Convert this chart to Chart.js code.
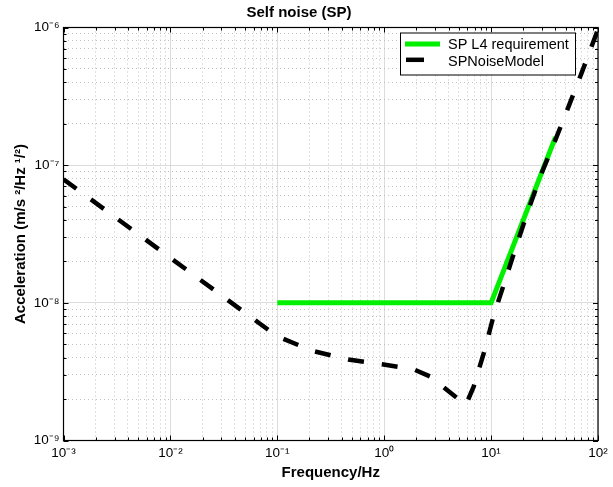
<!DOCTYPE html>
<html><head><meta charset="utf-8">
<script src="https://cdn.jsdelivr.net/npm/chart.js@4"></script>
<style>html,body{margin:0;padding:0;background:#fff;} #wrap{width:613px;height:487px;}</style>
</head><body><div id="wrap"><canvas id="c" width="613" height="487"></canvas></div>
<script>
// ---- data ----
const reqFreq = [0.1, 10, 40];
const reqValue = [1e-8, 1e-8, 1.6e-7];
const modelFreq = [0.001, 0.1, 0.217, 0.461, 1.02, 1.87, 2.68, 5.8, 6.87, 8.67, 10.6, 13.6, 17.3, 22.3, 29.2, 38.9, 52.8, 70.3, 93.8, 100];
const modelValue = [7.9e-8, 5.7e-9, 4.46e-9, 3.88e-9, 3.55e-9, 3.3e-9, 2.92e-9, 1.81e-9, 2.46e-9, 4.48e-9, 8.17e-9, 1.47e-8, 2.63e-8, 4.73e-8, 8.5e-8, 1.45e-7, 2.64e-7, 4.68e-7, 8.5e-7, 9.7e-7];
const seriesLabels = ['SP L4 requirement', 'SPNoiseModel'];
const xDecades = [-3, -2, -1, 0, 1, 2];
const yDecades = [-9, -8, -7, -6];
const chartTitle = 'Self noise (SP)';
const xTitle = 'Frequency/Hz';
const yTitle = 'Acceleration (m/s \u00b2/Hz \u00b9/\u00b2)';

// ---- helpers ----
const SUP = {'-':'\u207b','0':'\u2070','1':'\u00b9','2':'\u00b2','3':'\u00b3','4':'\u2074','5':'\u2075','6':'\u2076','7':'\u2077','8':'\u2078','9':'\u2079'};
const sup = s => String(s).split('').map(c => SUP[c] || c).join('');
const isPow10 = v => Math.abs(Math.log10(v) - Math.round(Math.log10(v))) < 1e-9;
function tickValues(decs) {
  const out = [];
  for (let i = 0; i < decs.length - 1; i++) {
    for (let m = 1; m <= 9; m++) out.push(Number((m * Math.pow(10, decs[i])).toPrecision(4)));
  }
  out.push(Math.pow(10, decs[decs.length - 1]));
  return out;
}
const xTicks = tickValues(xDecades);
const yTicks = tickValues(yDecades);
const powLabel = v => isPow10(v) ? '10' + sup(Math.round(Math.log10(v))) : '';

const FONT = '"Liberation Sans", Arial, Helvetica, sans-serif';
Chart.defaults.font.family = FONT;
Chart.defaults.color = '#000';

const gridColor = ctx => (ctx.tick && !isPow10(ctx.tick.value)) ? '#c2c2c2' : '#dcdcdc';
const gridDash = ctx => (ctx.tick && !isPow10(ctx.tick.value)) ? [1, 3] : [];

const frame = {
  id: 'frame',
  afterDraw(chart) {
    const {ctx, chartArea: a, scales: {x, y}} = chart;
    ctx.save();
    ctx.strokeStyle = '#000';
    ctx.lineWidth = 1;
    ctx.setLineDash([]);
    const seg = (x1, y1, x2, y2) => { ctx.beginPath(); ctx.moveTo(x1, y1); ctx.lineTo(x2, y2); ctx.stroke(); };
    x.ticks.forEach(t => {
      const px = Math.round(x.getPixelForValue(t.value)) + 0.5;
      const len = isPow10(t.value) ? 5 : 3;
      seg(px, a.bottom, px, a.bottom - len);
      seg(px, a.top, px, a.top + len);
    });
    y.ticks.forEach(t => {
      const py = Math.round(y.getPixelForValue(t.value)) + 0.5;
      const len = isPow10(t.value) ? 5 : 3;
      seg(a.left, py, a.left + len, py);
      seg(a.right, py, a.right - len, py);
    });
    ctx.lineWidth = 1.2;
    ctx.strokeRect(a.left, a.top, a.right - a.left, a.bottom - a.top);

    // legend box (inside plot, top-right)
    const bw = 175, bh = 42;
    const bx = a.right - 23 - bw, by = a.top + 5;
    ctx.fillStyle = '#fff';
    ctx.fillRect(bx, by, bw, bh);
    ctx.lineWidth = 1;
    ctx.strokeRect(bx + 0.5, by + 0.5, bw, bh);
    const ds = chart.data.datasets;
    const rows = [
      {d: ds[0], ly: by + 11.5, ty: by + 12.3, x1: bx + 5, x2: bx + 40},
      {d: ds[1], ly: by + 27.3, ty: by + 29.8, x1: bx + 6, x2: bx + 24}
    ];
    rows.forEach(r => {
      ctx.strokeStyle = r.d.borderColor;
      ctx.lineWidth = r.d.borderWidth;
      ctx.setLineDash([]);
      seg(r.x1, r.ly, r.x2, r.ly);
      ctx.fillStyle = '#000';
      ctx.font = '14.5px ' + FONT;
      ctx.textBaseline = 'middle';
      ctx.textAlign = 'left';
      ctx.fillText(r.d.label, bx + 48, r.ty);
    });
    ctx.restore();
  }
};

new Chart(document.getElementById('c'), {
  type: 'line',
  data: {
    datasets: [
      {
        label: seriesLabels[0],
        data: reqFreq.map((f, i) => ({x: f, y: reqValue[i]})),
        borderColor: '#00f000',
        borderWidth: 5,
        pointRadius: 0,
        tension: 0,
        order: 1,
        borderCapStyle: 'butt'
      },
      {
        label: seriesLabels[1],
        data: modelFreq.map((f, i) => ({x: f, y: modelValue[i]})),
        borderColor: '#000',
        borderWidth: 4.5,
        borderDash: [16, 18],
        pointRadius: 0,
        tension: 0,
        order: 0,
        borderCapStyle: 'butt'
      }
    ]
  },
  options: {
    responsive: false,
    animation: false,
    events: [],
    layout: {padding: {left: 0, right: 15, top: 0, bottom: 0}},
    plugins: {
      legend: {display: false},
      tooltip: {enabled: false},
      title: {
        display: true,
        text: chartTitle,
        color: '#000',
        font: {size: 15, weight: 'bold', family: FONT},
        padding: {top: 4, bottom: 5.5}
      }
    },
    scales: {
      x: {
        type: 'logarithmic',
        min: Math.pow(10, xDecades[0]),
        max: Math.pow(10, xDecades[xDecades.length - 1]),
        afterBuildTicks: s => { s.ticks = xTicks.map(v => ({value: v, major: isPow10(v)})); },
        afterFit: s => { s.height = 46.5; },
        ticks: {autoSkip: false, maxRotation: 0, minRotation: 0, padding: 5, color: '#000',
          font: {size: 13.5, family: FONT}, callback: v => powLabel(v)},
        grid: {color: gridColor, lineWidth: 1, drawTicks: false},
        border: {display: true, color: '#000', width: 1, dash: gridDash},
        title: {display: true, text: xTitle, color: '#000', font: {size: 15, weight: 'bold', family: FONT},
          padding: {top: 0, bottom: 5}}
      },
      y: {
        type: 'logarithmic',
        min: Math.pow(10, yDecades[0]),
        max: Math.pow(10, yDecades[yDecades.length - 1]),
        afterBuildTicks: s => { s.ticks = yTicks.map(v => ({value: v, major: isPow10(v)})); },
        afterFit: s => { s.width = 63.5; },
        ticks: {autoSkip: false, padding: 4, color: '#000',
          font: {size: 13.5, family: FONT}, callback: v => powLabel(v)},
        grid: {color: gridColor, lineWidth: 1, drawTicks: false},
        border: {display: true, color: '#000', width: 1, dash: gridDash},
        title: {display: true, text: yTitle, color: '#000', font: {size: 15, weight: 'bold', family: FONT},
          padding: {top: 12, bottom: 0}}
      }
    }
  },
  plugins: [frame]
});
</script>
</body></html>
